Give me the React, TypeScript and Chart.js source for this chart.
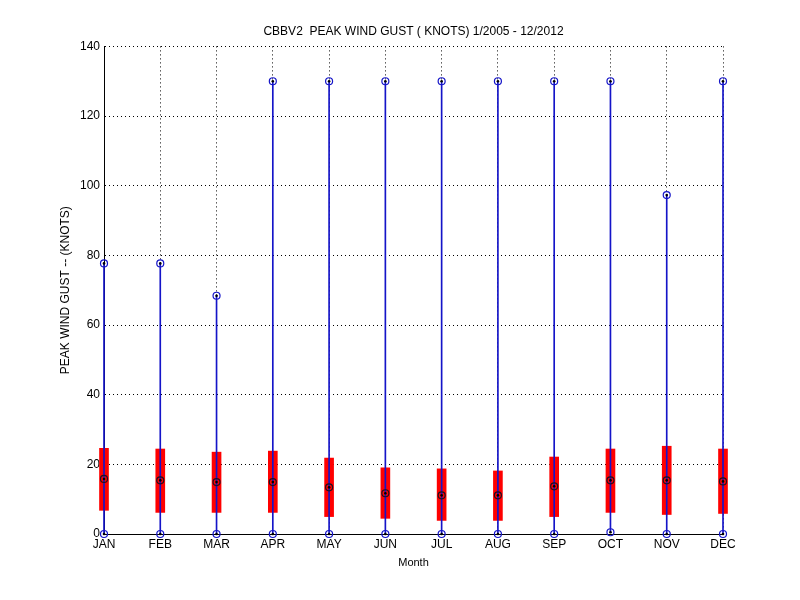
import { useEffect, useRef } from "react";
import { Chart, registerables } from "chart.js";

Chart.register(...registerables);

const months = ["JAN", "FEB", "MAR", "APR", "MAY", "JUN", "JUL", "AUG", "SEP", "OCT", "NOV", "DEC"];
const gustMax = [77.7, 77.7, 68.4, 130, 130, 130, 130, 130, 130, 130, 97.3, 130];
const gustMin = [0, 0, 0, 0, 0, 0, 0, 0, 0, 0.5, 0, 0];
const gustLow = [6.8, 6.2, 6.2, 6.2, 5.0, 4.5, 3.9, 3.9, 5.0, 6.2, 5.6, 5.9];
const gustHigh = [24.6, 24.4, 23.5, 23.8, 21.8, 19.0, 18.7, 18.1, 22.1, 24.4, 25.2, 24.4];
const gustMean = [15.8, 15.4, 14.9, 14.9, 13.4, 11.7, 11.1, 11.1, 13.7, 15.4, 15.4, 15.1];
const yTicks = [0, 20, 40, 60, 80, 100, 120, 140];

const BLUE = "#1414c8";
const FONT = "'Liberation Sans', Arial, sans-serif";

export default function App() {
  const canvasRef = useRef<HTMLCanvasElement | null>(null);
  const chartRef = useRef<Chart | null>(null);

  useEffect(() => {
    const ctx = canvasRef.current?.getContext("2d");
    if (!ctx) return;

    chartRef.current?.destroy();

    // ring + black dot, like matlab's 'o' with a '.' on top
    const markers = (data: number[], ring: string) => [
      {
        type: "line" as const,
        data,
        showLine: false,
        clip: false,
        pointStyle: "circle",
        pointRadius: 3.5,
        pointBorderWidth: 1.2,
        pointBorderColor: ring,
        pointBackgroundColor: "rgba(0,0,0,0)",
        order: 1,
      },
      {
        type: "line" as const,
        data,
        showLine: false,
        clip: false,
        pointRadius: 1.3,
        pointBorderWidth: 0,
        pointBackgroundColor: "#000",
        order: 0,
      },
    ];

    chartRef.current = new Chart(ctx, {
      type: "bar",
      data: {
        labels: months,
        datasets: [
          {
            type: "bar",
            data: months.map((_, i) => [gustLow[i], gustHigh[i]]),
            backgroundColor: "#ff0000",
            barThickness: 9,
            grouped: false,
            clip: false,
            order: 5,
          },
          {
            type: "bar",
            data: months.map((_, i) => [gustMin[i], gustMax[i]]),
            backgroundColor: BLUE,
            barThickness: 1,
            grouped: false,
            clip: false,
            order: 4,
          },
          ...markers(gustMax, BLUE),
          ...markers(gustMin, BLUE),
          ...markers(gustMean, "#201020"),
        ] as any,
      },
      options: {
        animation: false,
        responsive: false,
        events: [],
        layout: { padding: { left: 58, right: 77, top: 0, bottom: 30 } },
        plugins: {
          legend: { display: false },
          tooltip: { enabled: false },
          title: {
            display: true,
            fullSize: false,
            text: "CBBV2  PEAK WIND GUST ( KNOTS) 1/2005 - 12/2012",
            color: "#000",
            font: { family: FONT, size: 12, weight: "normal" },
            padding: { top: 24, bottom: 8 },
          },
        },
        scales: {
          x: {
            offset: false,
            grid: {
              offset: false,
              color: "#000",
              lineWidth: 1,
              drawTicks: false,
            },
            border: { display: true, color: "#000", width: 1, dash: [1, 3] },
            ticks: {
              color: "#000",
              padding: 3,
              font: { family: FONT, size: 12 },
              maxRotation: 0,
            },
            title: {
              display: true,
              text: "Month",
              color: "#000",
              font: { family: FONT, size: 11 },
              padding: { top: 1, bottom: 0 },
            },
            afterFit: (s: any) => {
              s.height = 36;
            },
          },
          y: {
            min: 0,
            max: 140,
            afterBuildTicks: (s: any) => {
              s.ticks = yTicks.map((v) => ({ value: v }));
            },
            grid: {
              color: "#000",
              lineWidth: 1,
              drawTicks: false,
            },
            border: { display: true, color: "#000", width: 1, dash: [1, 3] },
            ticks: {
              color: "#000",
              padding: 4,
              font: { family: FONT, size: 12 },
            },
            title: {
              display: true,
              text: "PEAK WIND GUST -- (KNOTS)",
              color: "#000",
              font: { family: FONT, size: 12 },
              padding: { top: 0, bottom: 0 },
            },
            afterFit: (s: any) => {
              s.width = 46;
            },
          },
        },
      },
    });

    return () => {
      chartRef.current?.destroy();
      chartRef.current = null;
    };
  }, []);

  return (
    <div style={{ position: "absolute", left: 0, top: 0, width: 800, height: 600, background: "#fff" }}>
      <canvas ref={canvasRef} width={800} height={600} style={{ width: 800, height: 600 }} />
    </div>
  );
}
